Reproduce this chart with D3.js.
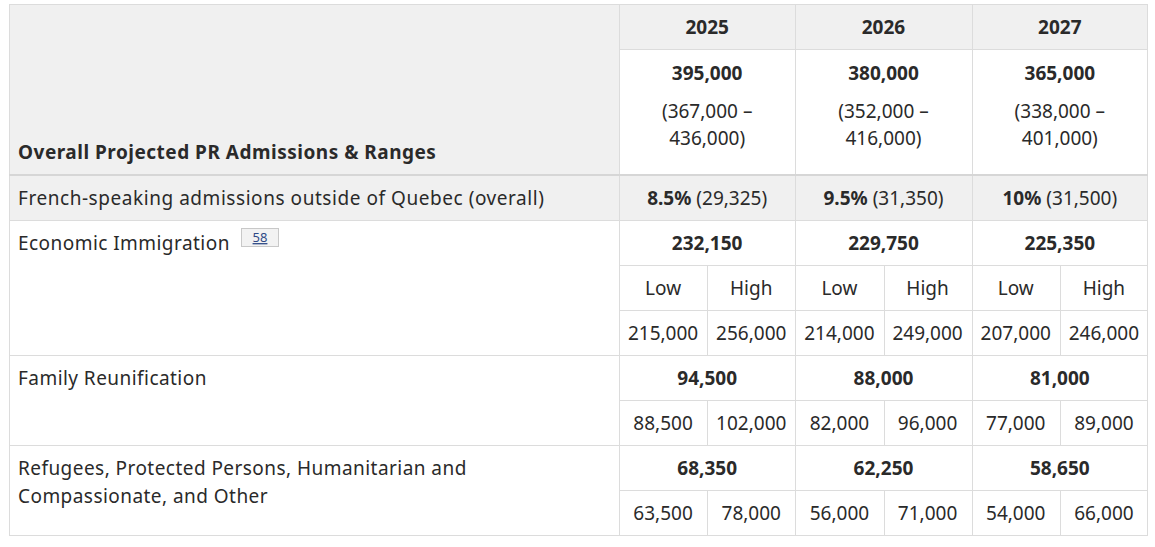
<!DOCTYPE html>
<html>
<head>
<meta charset="utf-8">
<script src="https://cdn.jsdelivr.net/npm/d3@7"></script>
<style>
  html, body { margin: 0; padding: 0; background: #fff; }
  svg { display: block; }
  text { font-family: "Noto Sans", "Open Sans", sans-serif; fill: #2a2a2a; }
</style>
</head>
<body>
<svg id="chart" width="1155" height="547"></svg>
<script>
// ---------- data ----------
const years = ["2025", "2026", "2027"];
const overallTitle = "Overall Projected PR Admissions & Ranges";
const overallTarget = [395000, 380000, 365000];
const overallLow = [367000, 352000, 338000];
const overallHigh = [436000, 416000, 401000];
const frenchLabel = "French-speaking admissions outside of Quebec (overall)";
const frenchPct = ["8.5%", "9.5%", "10%"];
const frenchCount = [29325, 31350, 31500];
const rangeLabels = ["Low", "High"];
const categories = [
  "Economic Immigration",
  "Family Reunification",
  "Refugees, Protected Persons, Humanitarian and Compassionate, and Other"
];
const economicTarget = [232150, 229750, 225350];
const economicLow = [215000, 214000, 207000];
const economicHigh = [256000, 249000, 246000];
const familyTarget = [94500, 88000, 81000];
const familyLow = [88500, 82000, 77000];
const familyHigh = [102000, 96000, 89000];
const refugeeTarget = [68350, 62250, 58650];
const refugeeLow = [63500, 56000, 54000];
const refugeeHigh = [78000, 71000, 66000];
const footnote = "58";

// ---------- layout ----------
const tblLeft = 9, tblRight = 1148, tblTop = 4, labelColRight = 619;
const fs = 19;
const gray = "#f0f0f0", border = "#dcdcdc";
const fmt = d3.format(",");

const svg = d3.select("#chart");

const x = d3.scaleBand().domain(years).range([labelColRight, tblRight]);
const xs = d3.scaleBand().domain(rangeLabels).range([0, x.bandwidth()]);
const hdr1Bottom = 49, hdr2Bottom = 175;
const y = d3.scaleLinear().domain([0, 8]).range([hdr2Bottom, 535]);
const rowH = y(1) - y(0);

const gBg = svg.append("g");
const gLines = svg.append("g");
const gText = svg.append("g");

gBg.append("rect").attr("x", tblLeft).attr("y", tblTop).attr("width", labelColRight - tblLeft).attr("height", hdr2Bottom - tblTop).attr("fill", gray);
gBg.append("rect").attr("x", labelColRight).attr("y", tblTop).attr("width", tblRight - labelColRight).attr("height", hdr1Bottom - tblTop).attr("fill", gray);
gBg.append("rect").attr("x", tblLeft).attr("y", y(0)).attr("width", tblRight - tblLeft).attr("height", rowH).attr("fill", gray);

function hline(x1, x2, yy, w, c) {
  gLines.append("line").attr("x1", x1).attr("x2", x2).attr("y1", yy).attr("y2", yy)
    .attr("stroke", c || border).attr("stroke-width", w || 1);
}
function vline(xx, y1, y2, w) {
  gLines.append("line").attr("x1", xx).attr("x2", xx).attr("y1", y1).attr("y2", y2)
    .attr("stroke", border).attr("stroke-width", w || 1);
}

gLines.append("rect").attr("x", tblLeft + 0.5).attr("y", tblTop + 0.5)
  .attr("width", tblRight - tblLeft - 1).attr("height", y(8) - tblTop)
  .attr("fill", "none").attr("stroke", border);

hline(labelColRight, tblRight, hdr1Bottom + 0.5, 1);
vline(labelColRight + 0.5, tblTop, y(8));
years.forEach(yr => vline(Math.round(x(yr)) + 0.5, tblTop, y(8)));
years.forEach(yr => {
  const xm = Math.round(x(yr) + xs("High")) + 0.5;
  vline(xm, y(2), y(4));
  vline(xm, y(5), y(6));
  vline(xm, y(7), y(8));
});
[1, 2, 3, 4, 5, 6, 7].forEach(i => {
  const full = (i === 1 || i === 4 || i === 6);
  hline(full ? tblLeft : labelColRight, tblRight, Math.round(y(i)) + 0.5, 1);
});
hline(tblLeft, tblRight, hdr2Bottom, 2, "#d6d6d6");

function txt(tx, ty, s, opts) {
  opts = opts || {};
  return gText.append("text")
    .attr("x", tx).attr("y", ty)
    .attr("dy", "0.35em")
    .attr("text-anchor", opts.anchor || "middle")
    .attr("font-size", opts.size || fs)
    .attr("font-weight", opts.bold ? 700 : 400)
    .attr("letter-spacing", opts.ls || null)
    .text(s);
}
const cx = yr => x(yr) + x.bandwidth() / 2;
const cxs = (yr, k) => x(yr) + xs(k) + xs.bandwidth() / 2;
const cy = i => y(i) + rowH / 2 + 0.8;
const labelX = 18;
const labelLS = 0.45;

years.forEach(yr => txt(cx(yr), (tblTop + hdr1Bottom) / 2 + 0.5, yr, { bold: true }));
txt(labelX, 152.5, overallTitle, { anchor: "start", bold: true, ls: 0.5 });
years.forEach((yr, i) => {
  txt(cx(yr), 73, fmt(overallTarget[i]), { bold: true });
  txt(cx(yr), 111, "(" + fmt(overallLow[i]) + " –");
  txt(cx(yr), 138, fmt(overallHigh[i]) + ")");
});

txt(labelX, cy(0), frenchLabel, { anchor: "start", ls: 0.55 });
years.forEach((yr, i) => {
  const t = gText.append("text")
    .attr("x", cx(yr)).attr("y", cy(0)).attr("dy", "0.35em")
    .attr("text-anchor", "middle").attr("font-size", fs);
  t.append("tspan").attr("font-weight", 700).text(frenchPct[i]);
  t.append("tspan").text(" (" + fmt(frenchCount[i]) + ")");
});

const catData = [
  { name: categories[0], target: economicTarget, low: economicLow, high: economicHigh, row: 1, rangeRow: 3, lowHigh: true },
  { name: categories[1], target: familyTarget, low: familyLow, high: familyHigh, row: 4, rangeRow: 5 },
  { name: categories[2], target: refugeeTarget, low: refugeeLow, high: refugeeHigh, row: 6, rangeRow: 7 }
];
catData.forEach(c => {
  if (c.row === 6) {
    const words = c.name.split(" ");
    txt(labelX, cy(c.row), words.slice(0, 5).join(" "), { anchor: "start", ls: labelLS });
    txt(labelX, cy(c.row) + 28, words.slice(5).join(" "), { anchor: "start", ls: labelLS });
  } else {
    txt(labelX, cy(c.row), c.name, { anchor: "start", ls: labelLS });
  }
  years.forEach((yr, i) => {
    txt(cx(yr), cy(c.row), fmt(c.target[i]), { bold: true });
    if (c.lowHigh) {
      rangeLabels.forEach(k => txt(cxs(yr, k), cy(2), k));
    }
    txt(cxs(yr, "Low"), cy(c.rangeRow), fmt(c.low[i]));
    txt(cxs(yr, "High"), cy(c.rangeRow), fmt(c.high[i]));
  });
});

const fnG = gText.append("g");
fnG.append("rect").attr("x", 241.5).attr("y", 228.5).attr("width", 37).attr("height", 18)
  .attr("fill", "#f2f2f2").attr("stroke", "#c8c8c8");
fnG.append("text").attr("x", 260).attr("y", 237.5).attr("dy", "0.35em")
  .attr("text-anchor", "middle").attr("font-size", 13)
  .attr("text-decoration", "underline")
  .style("fill", "#2e4a86").text(footnote);
</script>
</body>
</html>
